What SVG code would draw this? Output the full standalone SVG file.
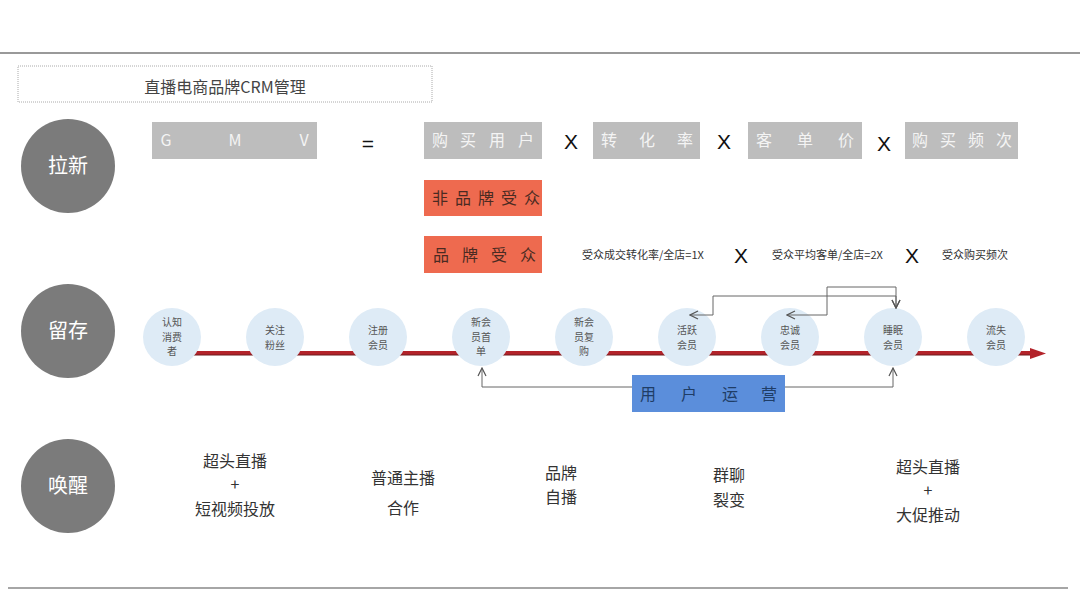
<svg xmlns="http://www.w3.org/2000/svg" width="1080" height="608" viewBox="0 0 1080 608">
<style>
text{font-family:"Noto Sans CJK SC","Liberation Sans",sans-serif}
.stage circle{fill:#7b7b7b}
.stage text{fill:#fff;font-size:20px;text-anchor:middle}
.gbox rect{fill:#bdbdbd}
.gbox text{fill:#f4f4f4;font-size:16px;text-anchor:middle}
.obox rect{fill:#ee6a4f}
.obox text{fill:#4a2a22;font-size:16px;text-anchor:middle}
.mul{font-family:"Liberation Sans",sans-serif;font-size:21px;fill:#111;text-anchor:middle}
.small{font-size:11px;fill:#333}
.node circle{fill:#deebf6}
.node text{font-size:10px;fill:#555;text-anchor:middle}
.act text{font-size:16px;fill:#333;text-anchor:middle}
.conn{fill:none;stroke:#666;stroke-width:1}
</style>
<defs>
<marker id="open" viewBox="0 0 10 10" refX="9" refY="5" markerWidth="10" markerHeight="10" markerUnits="userSpaceOnUse" orient="auto-start-reverse">
<path d="M1,1 L9,5 L1,9" fill="none" stroke="#555" stroke-width="1.2"/>
</marker>
</defs>
<rect width="1080" height="608" fill="#fff"/>
<line x1="0" y1="53" x2="1080" y2="53" stroke="#777" stroke-width="1.3"/>
<line x1="8" y1="588" x2="1068" y2="588" stroke="#888" stroke-width="1.3"/>

<g id="title">
<rect x="18" y="66" width="414" height="36" fill="#fff" stroke="#aaa" stroke-width="1" stroke-dasharray="1,1"/>
<text x="225" y="93" font-size="16" fill="#444" text-anchor="middle">直播电商品牌CRM管理</text>
</g>

<g id="stage-laxin" class="stage"><circle cx="68" cy="166" r="47"/><text x="68" y="173">拉新</text></g>
<g id="stage-liucun" class="stage"><circle cx="68" cy="331" r="47"/><text x="68" y="338">留存</text></g>
<g id="stage-huanxing" class="stage"><circle cx="68" cy="486" r="47"/><text x="68" y="493">唤醒</text></g>

<g id="gmv" class="gbox"><rect x="152" y="122" width="165" height="37"/><text x="166 235 304" y="146">GMV</text></g>
<text class="mul" x="368" y="151">=</text>
<g id="users" class="gbox"><rect x="424" y="122" width="118" height="37"/><text x="440 468 497 526" y="146">购买用户</text></g>
<text class="mul" x="571" y="149">X</text>
<g id="conv" class="gbox"><rect x="593" y="122" width="107" height="37"/><text x="609 647 685" y="146">转化率</text></g>
<text class="mul" x="724" y="149">X</text>
<g id="aov" class="gbox"><rect x="748" y="122" width="114" height="37"/><text x="764 805 846" y="146">客单价</text></g>
<text class="mul" x="884" y="151">X</text>
<g id="freq" class="gbox"><rect x="905" y="122" width="113" height="37"/><text x="920 948 976 1004" y="146">购买频次</text></g>

<g id="nonbrand" class="obox"><rect x="424" y="180" width="118" height="36"/><text x="440 463 486 509 532" y="204">非品牌受众</text></g>
<g id="brand" class="obox"><rect x="424" y="236" width="118" height="37"/><text x="441 470 499 528" y="261">品牌受众</text></g>
<text class="small" x="582" y="259">受众成交转化率/全店=1X</text>
<text class="mul" x="741" y="263">X</text>
<text class="small" x="772" y="259">受众平均客单/全店=2X</text>
<text class="mul" x="912" y="263">X</text>
<text class="small" x="942" y="259">受众购买频次</text>

<g id="timeline">
<line x1="172" y1="353" x2="1032" y2="353" stroke="#b3232a" stroke-width="4"/>
<line x1="172" y1="355" x2="1032" y2="355" stroke="#6e1a1c" stroke-width="1"/>
<polygon points="1030,348 1046,353.5 1030,359" fill="#b3232a"/>
</g>

<g id="n1" class="node"><circle cx="172" cy="337" r="29"/><text y="326"><tspan x="172">认知</tspan><tspan x="172" dy="14.5">消费</tspan><tspan x="172" dy="14.5">者</tspan></text></g>
<g id="n2" class="node"><circle cx="275" cy="337" r="29"/><text y="334"><tspan x="275">关注</tspan><tspan x="275" dy="14.5">粉丝</tspan></text></g>
<g id="n3" class="node"><circle cx="378" cy="337" r="29"/><text y="334"><tspan x="378">注册</tspan><tspan x="378" dy="14.5">会员</tspan></text></g>
<g id="n4" class="node"><circle cx="481" cy="337" r="29"/><text y="326"><tspan x="481">新会</tspan><tspan x="481" dy="14.5">员首</tspan><tspan x="481" dy="14.5">单</tspan></text></g>
<g id="n5" class="node"><circle cx="584" cy="337" r="29"/><text y="326"><tspan x="584">新会</tspan><tspan x="584" dy="14.5">员复</tspan><tspan x="584" dy="14.5">购</tspan></text></g>
<g id="n6" class="node"><circle cx="687" cy="337" r="29"/><text y="334"><tspan x="687">活跃</tspan><tspan x="687" dy="14.5">会员</tspan></text></g>
<g id="n7" class="node"><circle cx="790" cy="337" r="29"/><text y="334"><tspan x="790">忠诚</tspan><tspan x="790" dy="14.5">会员</tspan></text></g>
<g id="n8" class="node"><circle cx="893" cy="337" r="29"/><text y="334"><tspan x="893">睡眠</tspan><tspan x="893" dy="14.5">会员</tspan></text></g>
<g id="n9" class="node"><circle cx="996" cy="337" r="29"/><text y="334"><tspan x="996">流失</tspan><tspan x="996" dy="14.5">会员</tspan></text></g>

<g id="connectors">
<path class="conn" d="M690,315 H713 V296 H896 V308" marker-start="url(#open)" marker-end="url(#open)"/>
<path class="conn" d="M787,315 H827 V287 H896 V308" marker-start="url(#open)" marker-end="url(#open)"/>
<path class="conn" d="M482,368 V387 H893 V368" marker-start="url(#open)" marker-end="url(#open)"/>
</g>

<g id="userops"><rect x="632" y="375" width="153" height="37" fill="#5b8edb"/><text x="648 689 730 769" y="400" font-size="16" fill="#1f3d66" text-anchor="middle">用户运营</text></g>

<g id="act1" class="act"><text x="235" y="467">超头直播</text><text x="235" y="490" font-size="13">+</text><text x="235" y="515">短视频投放</text></g>
<g id="act2" class="act"><text x="403" y="484">普通主播</text><text x="403" y="514">合作</text></g>
<g id="act3" class="act"><text x="561" y="479">品牌</text><text x="561" y="503">自播</text></g>
<g id="act4" class="act"><text x="729" y="481">群聊</text><text x="729" y="506">裂变</text></g>
<g id="act5" class="act"><text x="928" y="473">超头直播</text><text x="928" y="496" font-size="13">+</text><text x="928" y="521">大促推动</text></g>
</svg>
